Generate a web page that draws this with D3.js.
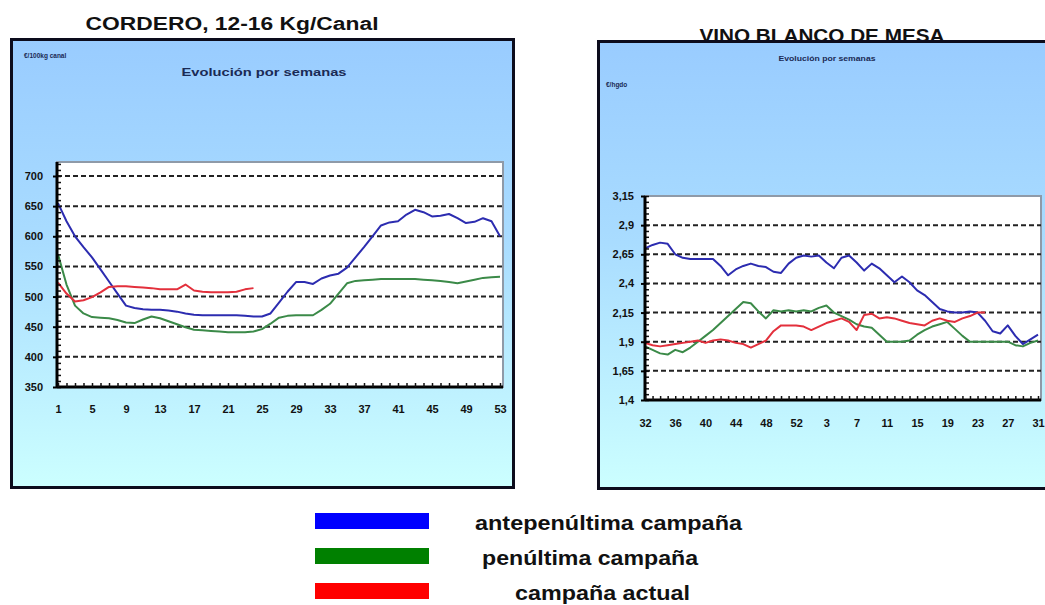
<!DOCTYPE html>
<html>
<head>
<meta charset="utf-8">
<script src="https://cdn.jsdelivr.net/npm/d3@7"></script>
<style>
  html, body { margin: 0; padding: 0; background: #ffffff; }
  svg { display: block; }
  text { font-family: "Liberation Sans", Arial, sans-serif; }
</style>
</head>
<body>
<svg id="chart" width="1045" height="605"></svg>
<script>
// ---------------- DATA ----------------
// Left chart: CORDERO (weeks 1..53)
const corderoWeeks = [1,2,3,4,5,6,7,8,9,10,11,12,13,14,15,16,17,18,19,20,21,22,23,24,25,26,27,28,29,30,31,32,33,34,35,36,37,38,39,40,41,42,43,44,45,46,47,48,49,50,51,52,53];
const corderoTickLabels = [1,5,9,13,17,21,25,29,33,37,41,45,49,53];
const corderoYTicks = [350,400,450,500,550,600,650,700];
const corderoAnte = [655,625,600,582,565,545,525,505,485,481,479,478,478,477,475,472,470,469,469,469,469,469,468,467,467,472,490,508,524,524,521,530,535,538,548,565,582,600,618,623,625,636,644,640,633,634,637,630,622,624,630,625,600];
const corderoPen = [570,520,485,472,466,465,464,461,457,456,462,467,464,459,454,449,445,444,443,442,441,441,441,442,446,455,465,468,469,469,469,478,488,505,522,526,527,528,529,529,529,529,529,528,527,526,524,522,525,528,531,532,533];
const corderoAct = [523,505,492,494,499,507,516,517,517,516,515,514,512,512,512,520,510,508,507,507,507,508,512,514];

// Right chart: VINO BLANCO DE MESA (weeks 32..53, 1..31)
const vinoWeeks = [32,33,34,35,36,37,38,39,40,41,42,43,44,45,46,47,48,49,50,51,52,53,1,2,3,4,5,6,7,8,9,10,11,12,13,14,15,16,17,18,19,20,21,22,23,24,25,26,27,28,29,30,31];
const vinoTickLabels = [32,36,40,44,48,52,3,7,11,15,19,23,27,31];
const vinoYTicks = [1.4,1.65,1.9,2.15,2.4,2.65,2.9,3.15];
const vinoAnte = [2.70,2.73,2.75,2.74,2.65,2.62,2.61,2.61,2.61,2.61,2.55,2.47,2.52,2.55,2.57,2.55,2.54,2.50,2.49,2.57,2.62,2.64,2.63,2.64,2.58,2.53,2.62,2.64,2.58,2.51,2.57,2.53,2.47,2.41,2.46,2.41,2.34,2.30,2.24,2.18,2.16,2.15,2.15,2.16,2.15,2.08,1.99,1.97,2.04,1.95,1.88,1.92,1.96];
const vinoPen = [1.86,1.83,1.80,1.79,1.83,1.81,1.85,1.90,1.95,2.00,2.06,2.12,2.18,2.24,2.23,2.16,2.10,2.17,2.16,2.17,2.16,2.17,2.16,2.19,2.21,2.15,2.12,2.09,2.05,2.03,2.02,1.96,1.90,1.90,1.90,1.91,1.96,2.00,2.03,2.05,2.07,2.01,1.95,1.90,1.90,1.90,1.90,1.90,1.90,1.87,1.86,1.89,1.91];
const vinoAct = [1.89,1.87,1.86,1.87,1.88,1.89,1.90,1.91,1.89,1.91,1.92,1.91,1.89,1.88,1.85,1.88,1.91,1.99,2.04,2.04,2.04,2.03,2.00,2.03,2.06,2.08,2.10,2.07,2.00,2.13,2.14,2.10,2.11,2.10,2.08,2.06,2.05,2.04,2.08,2.10,2.08,2.07,2.10,2.12,2.15,2.15];

const legendLabels = ["antepenúltima campaña", "penúltima campaña", "campaña actual"];
const legendColors = ["#0000ff", "#008000", "#ff0000"];
const lineColors = ["#2c2cb0", "#3b8a48", "#e3303c"];

// ---------------- DRAW ----------------
const svg = d3.select("#chart");
const defs = svg.append("defs");
const grad = defs.append("linearGradient").attr("id", "bg").attr("x1", 0).attr("y1", 0).attr("x2", 0).attr("y2", 1);
grad.append("stop").attr("offset", "0%").attr("stop-color", "#99ccff");
grad.append("stop").attr("offset", "45%").attr("stop-color", "#a9dcff");
grad.append("stop").attr("offset", "100%").attr("stop-color", "#ccffff");

const esLocale = d3.formatLocale({decimal: ",", thousands: ".", grouping: [3], currency: ["", "€"]});

function drawPanel(cfg) {
  const g = svg.append("g");
  // title
  g.append("text")
    .attr("x", cfg.titleX).attr("y", cfg.titleY)
    .attr("text-anchor", "middle")
    .attr("font-size", 18).attr("font-weight", "bold").attr("fill", "#111")
    .attr("textLength", cfg.titleLen).attr("lengthAdjust", "spacingAndGlyphs")
    .text(cfg.title);
  // frame
  g.append("rect")
    .attr("x", cfg.frame[0]).attr("y", cfg.frame[1])
    .attr("width", cfg.frame[2]).attr("height", cfg.frame[3])
    .attr("fill", "url(#bg)").attr("stroke", "#0c0c1c").attr("stroke-width", 3);
  // subtitle
  g.append("text")
    .attr("x", cfg.subX).attr("y", cfg.subY).attr("text-anchor", "middle")
    .attr("font-size", cfg.subSize).attr("font-weight", "bold").attr("fill", "#1a2a55")
    .attr("textLength", cfg.subLen).attr("lengthAdjust", "spacingAndGlyphs")
    .text("Evolución por semanas");
  // unit
  g.append("text")
    .attr("x", cfg.unitX).attr("y", cfg.unitY)
    .attr("font-size", 6.5).attr("font-weight", "bold").attr("fill", "#1a2a55")
    .text(cfg.unit);

  const x = d3.scalePoint().domain(cfg.weeks).range(cfg.xRange);
  const y = d3.scaleLinear().domain(cfg.yDomain).range(cfg.yRange);
  const left = cfg.plot[0], top = cfg.plot[1], right = cfg.plot[2], bottom = y(cfg.yDomain[0]);

  // plot area
  g.append("rect").attr("x", left).attr("y", top)
    .attr("width", right - left).attr("height", bottom - top)
    .attr("fill", "#ffffff").attr("stroke", "#8f9aa8").attr("stroke-width", 2);

  // gridlines
  g.append("g").selectAll("line")
    .data(cfg.yTicks.filter(v => v > cfg.yDomain[0] && y(v) > top + 2))
    .join("line")
    .attr("x1", left).attr("x2", right)
    .attr("y1", d => y(d)).attr("y2", d => y(d))
    .attr("stroke", "#222").attr("stroke-width", 2).attr("stroke-dasharray", "5,3");

  // series
  const series = [cfg.ante, cfg.pen, cfg.act];
  series.forEach((vals, i) => {
    const line = d3.line().x((d, j) => x(cfg.weeks[j])).y(d => y(d));
    g.append("path").datum(vals)
      .attr("d", line)
      .attr("fill", "none").attr("stroke", lineColors[i])
      .attr("stroke-width", 2).attr("stroke-linejoin", "round");
  });

  // minor y ticks
  const minorY = d3.axisLeft(y).tickValues(cfg.minorY).tickSize(-4).tickFormat("");
  g.append("g").attr("transform", `translate(${left},0)`).call(minorY)
    .call(s => s.select(".domain").remove())
    .call(s => s.selectAll("line").attr("stroke", "#111").attr("stroke-width", 1.5));

  // y axis
  const fmt = cfg.yFormat;
  const yAxis = d3.axisLeft(y).tickValues(cfg.yTicks).tickSize(4).tickPadding(cfg.yPad).tickFormat(fmt);
  g.append("g").attr("transform", `translate(${left},0)`).call(yAxis)
    .call(s => s.select(".domain").attr("d", `M0,${top}V${bottom}`).attr("stroke", "#000").attr("stroke-width", 3))
    .call(s => s.selectAll("line").attr("stroke", "#000").attr("stroke-width", 2))
    .call(s => s.selectAll("text").attr("font-size", cfg.yFont).attr("font-weight", "bold")
      .attr("fill", "#111").attr("font-family", "'Liberation Sans', Arial, sans-serif"));

  // x axis (all week ticks pointing inward)
  const xTicks = d3.axisBottom(x).tickSize(-4).tickFormat("");
  g.append("g").attr("transform", `translate(0,${bottom})`).call(xTicks)
    .call(s => s.select(".domain").attr("d", `M${left},0H${right}`).attr("stroke", "#000").attr("stroke-width", 3))
    .call(s => s.selectAll("line").attr("stroke", "#111").attr("stroke-width", 1.5));
  const xLabels = d3.axisBottom(x).tickValues(cfg.xTickLabels).tickSize(0).tickPadding(cfg.xPad);
  g.append("g").attr("transform", `translate(0,${bottom})`).call(xLabels)
    .call(s => s.select(".domain").remove())
    .call(s => s.selectAll("text").attr("font-size", cfg.xFont).attr("font-weight", "bold")
      .attr("fill", "#111").attr("font-family", "'Liberation Sans', Arial, sans-serif"));
}

drawPanel({
  title: "CORDERO, 12-16 Kg/Canal", titleX: 232, titleY: 30, titleLen: 293,
  frame: [11.5, 39.5, 502, 448],
  subX: 264, subY: 76, subSize: 11, subLen: 165,
  unit: "€/100kg canal", unitX: 24, unitY: 58,
  weeks: corderoWeeks, xRange: [58, 500],
  yDomain: [350, 700], yRange: [387, 176],
  plot: [57, 162, 503],
  yTicks: corderoYTicks, minorY: d3.range(350, 721, 10),
  yFormat: d3.format("d"), yFont: 11, yPad: 10,
  xTickLabels: corderoTickLabels, xFont: 11, xPad: 18,
  ante: corderoAnte, pen: corderoPen, act: corderoAct
});

drawPanel({
  title: "VINO BLANCO DE MESA", titleX: 822, titleY: 42, titleLen: 245,
  frame: [598.5, 41.5, 470, 447],
  subX: 827, subY: 61, subSize: 6.5, subLen: 97,
  unit: "€/hgdo", unitX: 606, unitY: 87,
  weeks: vinoWeeks, xRange: [645, 1038],
  yDomain: [1.4, 3.15], yRange: [400, 196],
  plot: [645, 196, 1041],
  yTicks: vinoYTicks, minorY: d3.range(1.4, 3.16, 0.05),
  yFormat: esLocale.format(",.2~f"), yFont: 11, yPad: 7,
  xTickLabels: vinoTickLabels, xFont: 11, xPad: 19,
  ante: vinoAnte, pen: vinoPen, act: vinoAct
});

// legend
const legend = svg.append("g");
const legendY = [513, 548, 583];
const legendTextX = [475, 482, 515];
const legendTextLen = [267, 216, 175];
legendLabels.forEach((lab, i) => {
  legend.append("rect").attr("x", 315).attr("y", legendY[i]).attr("width", 114).attr("height", 16)
    .attr("fill", legendColors[i]);
  legend.append("text").attr("x", legendTextX[i]).attr("y", legendY[i] + 17)
    .attr("font-size", 20).attr("font-weight", "bold").attr("fill", "#111")
    .attr("textLength", legendTextLen[i]).attr("lengthAdjust", "spacingAndGlyphs")
    .text(lab);
});
</script>
</body>
</html>
